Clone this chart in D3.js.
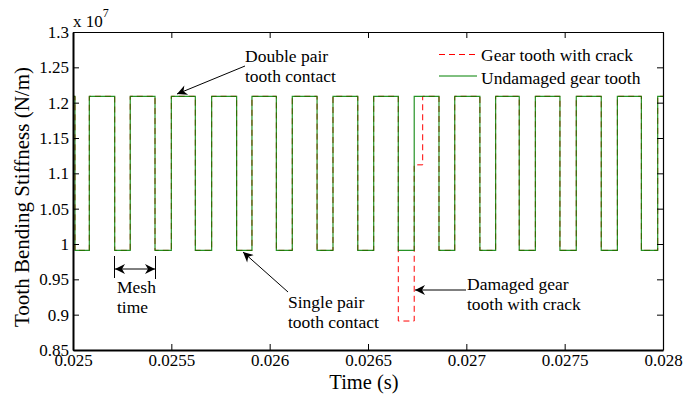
<!DOCTYPE html>
<html>
<head>
<meta charset="utf-8">
<script src="https://cdn.jsdelivr.net/npm/d3@7/dist/d3.min.js"></script>
<style>
  body { margin: 0; background: #fff; }
  svg { display: block; font-family: "Liberation Serif", "Times New Roman", serif; }
</style>
</head>
<body>
<div id="chart"></div>
<script>
// stiffness levels (N/m)
const highLevel = 1.209e7;
const lowLevel = 0.991e7;

// step edges of the undamaged mesh stiffness (s)
const riseTimes = [0.025083, 0.025291, 0.025500, 0.025705, 0.025910, 0.026115, 0.026322,
  0.026529, 0.026735, 0.026941, 0.027149, 0.027351, 0.027559, 0.027768, 0.027973];
const fallTimes = [0.025010, 0.025212, 0.025417, 0.025622, 0.025832, 0.026034, 0.026241,
  0.026448, 0.026654, 0.026861, 0.027069, 0.027269, 0.027476, 0.027686, 0.027890];

// cracked tooth: replaces the steps between these times
const crackTimes = [0.026654, 0.026735, 0.026778];
const crackValues = [0.891e7, 1.112e7, 1.209e7];

const xTicks = [0.025, 0.0255, 0.026, 0.0265, 0.027, 0.0275, 0.028];
const xTickLabels = ['0.025', '0.0255', '0.026', '0.0265', '0.027', '0.0275', '0.028'];
const yTicks = [0.85e7, 0.9e7, 0.95e7, 1e7, 1.05e7, 1.1e7, 1.15e7, 1.2e7, 1.25e7, 1.3e7];
const yTickLabels = ['0.85', '0.9', '0.95', '1', '1.05', '1.1', '1.15', '1.2', '1.25', '1.3'];

const width = 684, height = 399;
const margin = { top: 32, right: 21, bottom: 49, left: 73 };
const w = width - margin.left - margin.right;
const h = height - margin.top - margin.bottom;

const svg = d3.select('#chart').append('svg')
  .attr('width', width)
  .attr('height', height);

const g = svg.append('g').attr('transform', `translate(${margin.left},${margin.top})`);

const x = d3.scaleLinear().domain([0.025, 0.028]).range([0, w]);
const y = d3.scaleLinear().domain([0.85e7, 1.3e7]).range([h, 0]);

// build step series
const undamaged = [{ t: 0.025, v: highLevel }]
  .concat(riseTimes.map(t => ({ t, v: highLevel })))
  .concat(fallTimes.map(t => ({ t, v: lowLevel })))
  .sort((a, b) => a.t - b.t);
undamaged.push({ t: 0.028, v: undamaged[undamaged.length - 1].v });

const cStart = crackTimes[0], cEnd = crackTimes[crackTimes.length - 1];
const cracked = undamaged.filter(d => d.t < cStart)
  .concat(crackTimes.map((t, i) => ({ t, v: crackValues[i] })))
  .concat(undamaged.filter(d => d.t > cEnd));

const line = d3.line()
  .x(d => x(d.t))
  .y(d => y(d.v))
  .curve(d3.curveStepAfter);

const red = '#ff0000';
const green = '#008000';

g.append('path')
  .datum(cracked)
  .attr('d', line)
  .attr('fill', 'none')
  .attr('stroke', red)
  .attr('stroke-width', 1)
  .attr('stroke-dasharray', '6,4');

g.append('path')
  .datum(undamaged)
  .attr('d', line)
  .attr('fill', 'none')
  .attr('stroke', green)
  .attr('stroke-opacity', 0.85)
  .attr('stroke-width', 1.2);

// axes with inward ticks
const fs = '17px';
const xAxis = g.append('g')
  .attr('transform', `translate(0,${h})`)
  .call(d3.axisBottom(x).tickValues(xTicks).tickFormat((d, i) => xTickLabels[i])
    .tickSizeInner(-6).tickSizeOuter(0).tickPadding(4));
const yAxis = g.append('g')
  .call(d3.axisLeft(y).tickValues(yTicks).tickFormat((d, i) => yTickLabels[i])
    .tickSizeInner(-6).tickSizeOuter(0).tickPadding(4));
const xTop = g.append('g')
  .call(d3.axisTop(x).tickValues(xTicks).tickFormat('').tickSizeInner(-6).tickSizeOuter(0));
const yRight = g.append('g')
  .attr('transform', `translate(${w},0)`)
  .call(d3.axisRight(y).tickValues(yTicks).tickFormat('').tickSizeInner(-6).tickSizeOuter(0));

[xAxis, yAxis, xTop, yRight].forEach(a => {
  a.selectAll('text').attr('font-size', fs).attr('font-family', 'Liberation Serif').attr('fill', '#000');
  a.selectAll('line').attr('stroke', '#000');
});
xAxis.select('.domain').attr('stroke-width', 2);
yAxis.select('.domain').attr('stroke-width', 2);
xTop.select('.domain').attr('stroke-width', 1.2);
yRight.select('.domain').attr('stroke-width', 1.2);

// axis labels
svg.append('text')
  .attr('x', 364).attr('y', 389)
  .attr('text-anchor', 'middle')
  .attr('font-size', '20.5px')
  .text('Time (s)');
svg.append('text')
  .attr('transform', 'translate(29,197) rotate(-90)')
  .attr('text-anchor', 'middle')
  .attr('font-size', '21px')
  .text('Tooth Bending Stiffness (N/m)');

// exponent
const ex = svg.append('text').attr('x', 73).attr('y', 27).attr('font-size', '17px');
ex.append('tspan').text('x 10');
ex.append('tspan').attr('dy', -10).attr('font-size', '12px').text('7');

// legend
const legend = svg.append('g');
legend.append('line').attr('x1', 439).attr('x2', 477).attr('y1', 54.5).attr('y2', 54.5)
  .attr('stroke', red).attr('stroke-dasharray', '6,4');
legend.append('text').attr('x', 481).attr('y', 61).attr('font-size', '17.5px').text('Gear tooth with crack');
legend.append('line').attr('x1', 439).attr('x2', 477).attr('y1', 76).attr('y2', 76)
  .attr('stroke', green);
legend.append('text').attr('x', 481).attr('y', 84).attr('font-size', '17.5px').text('Undamaged gear tooth');

// arrowheads
const defs = svg.append('defs');
defs.append('marker')
  .attr('id', 'arrow')
  .attr('viewBox', '0 0 10 10')
  .attr('refX', 10).attr('refY', 5)
  .attr('markerWidth', 14).attr('markerHeight', 10)
  .attr('markerUnits', 'userSpaceOnUse')
  .attr('orient', 'auto-start-reverse')
  .append('path')
  .attr('d', 'M0,0 L10,5 L0,10 L3,5 Z')
  .attr('fill', '#000');

function arrow(x1, y1, x2, y2, both) {
  const l = svg.append('line')
    .attr('x1', x1).attr('y1', y1).attr('x2', x2).attr('y2', y2)
    .attr('stroke', '#000').attr('stroke-width', 1)
    .attr('marker-end', 'url(#arrow)');
  if (both) l.attr('marker-start', 'url(#arrow)');
}

function label(xp, yp, lines) {
  lines.forEach((s, i) => {
    svg.append('text').attr('x', xp).attr('y', yp + i * 20)
      .attr('font-size', '17.5px').text(s);
  });
}

// double pair
arrow(245, 66, 177, 94);
label(245, 62, ['Double pair', 'tooth contact']);

// mesh time
svg.append('line').attr('x1', 114.5).attr('x2', 114.5).attr('y1', 256).attr('y2', 278).attr('stroke', '#000');
svg.append('line').attr('x1', 155.5).attr('x2', 155.5).attr('y1', 256).attr('y2', 279).attr('stroke', '#000');
arrow(115, 269, 155, 269, true);
label(117, 293, ['Mesh', 'time']);

// single pair
arrow(288, 292, 243, 252);
label(288, 308, ['Single pair', 'tooth contact']);

// damaged tooth
arrow(466, 290, 415, 290);
label(467, 290, ['Damaged gear', 'tooth with crack']);
</script>
</body>
</html>
